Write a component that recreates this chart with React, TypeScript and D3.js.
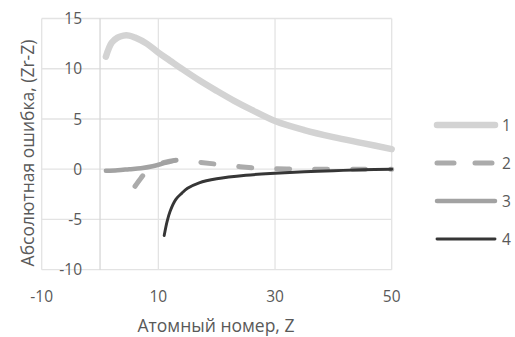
import React, { useEffect, useRef } from 'react';
import * as d3 from 'd3';

// series 1
const z1 = [1, 2, 3, 4, 5, 6, 8, 10, 12, 14, 17, 20, 23, 26, 30, 35, 40, 45, 50];
const v1 = [11.2, 12.6, 13.1, 13.3, 13.3, 13.1, 12.5, 11.6, 10.8, 10.0, 8.85, 7.8, 6.8, 5.9, 4.8, 3.9, 3.2, 2.6, 2.0];
// series 2 (dashed)
const z2 = [6, 7, 8, 10, 13, 15, 17, 20, 24, 28, 32, 36, 40, 45, 50];
const v2 = [-1.7, -0.9, -0.2, 0.5, 0.9, 0.85, 0.7, 0.5, 0.25, 0.08, 0.02, 0, 0, 0, 0];
// series 3
const z3 = [1, 3, 5, 7, 9, 11, 13];
const v3 = [-0.15, -0.1, 0, 0.1, 0.3, 0.6, 0.9];
// series 4
const z4 = [11, 11.5, 12, 13, 14, 15, 17, 20, 25, 30, 35, 40, 45, 50];
const v4 = [-6.6, -5.2, -4.2, -3.0, -2.4, -1.9, -1.35, -0.95, -0.6, -0.4, -0.25, -0.15, -0.05, 0];

const xTicks = [-10, 10, 30, 50];
const xGrid = [-10, 10, 30, 50];
const yTicks = [-10, -5, 0, 5, 10, 15];
const legendNames = ['1', '2', '3', '4'];

const xTitle = 'Атомный номер, Z';
const yTitle = 'Абсолютная ошибка, (Zr-Z)';

export default function App() {
  const ref = useRef<SVGSVGElement>(null);

  useEffect(() => {
    const svg = d3.select(ref.current);
    svg.selectAll('*').remove();

    const font = '"Open Sans", "Noto Sans", sans-serif';
    const textColor = '#595959';

    const x = d3.scaleLinear().domain([-10, 50]).range([41.7, 391.7]);
    const y = d3.scaleLinear().domain([-10, 15]).range([269.7, 18.5]);

    // grid
    svg.append('g')
      .selectAll('line')
      .data(yTicks)
      .enter()
      .append('line')
      .attr('x1', x(-10))
      .attr('x2', x(50))
      .attr('y1', d => y(d))
      .attr('y2', d => y(d))
      .attr('stroke', '#e3e3e3')
      .attr('stroke-width', 1.3);

    svg.append('g')
      .selectAll('line')
      .data(xGrid)
      .enter()
      .append('line')
      .attr('x1', d => x(d))
      .attr('x2', d => x(d))
      .attr('y1', y(15))
      .attr('y2', y(-10))
      .attr('stroke', '#e3e3e3')
      .attr('stroke-width', 1.3);

    // vertical axis at Z = 0
    svg.append('line')
      .attr('x1', x(0))
      .attr('x2', x(0))
      .attr('y1', y(15))
      .attr('y2', y(-10))
      .attr('stroke', '#d6d6d6')
      .attr('stroke-width', 1.3);

    // tick labels
    svg.append('g')
      .selectAll('text')
      .data(yTicks)
      .enter()
      .append('text')
      .attr('x', 82)
      .attr('y', d => y(d))
      .attr('dy', '0.36em')
      .attr('text-anchor', 'end')
      .attr('font-family', font)
      .attr('font-size', 15.5)
      .attr('fill', textColor)
      .text(d => d);

    svg.append('g')
      .selectAll('text')
      .data(xTicks)
      .enter()
      .append('text')
      .attr('x', d => x(d))
      .attr('y', 301.5)
      .attr('text-anchor', 'middle')
      .attr('font-family', font)
      .attr('font-size', 15.5)
      .attr('fill', textColor)
      .text(d => d);

    // axis titles
    svg.append('text')
      .attr('x', 216)
      .attr('y', 331.5)
      .attr('text-anchor', 'middle')
      .attr('font-family', font)
      .attr('font-size', 17.5)
      .attr('fill', textColor)
      .text(xTitle);

    svg.append('text')
      .attr('transform', 'translate(34,153) rotate(-90)')
      .attr('text-anchor', 'middle')
      .attr('font-family', font)
      .attr('font-size', 17.5)
      .attr('fill', textColor)
      .text(yTitle);

    const line = d3.line<[number, number]>()
      .x(d => x(d[0]))
      .y(d => y(d[1]))
      .curve(d3.curveCatmullRom.alpha(0.5));

    const series = [
      { z: z1, v: v1, color: '#d3d3d3', width: 6.5, dash: null, legendDash: null },
      { z: z2, v: v2, color: '#ababab', width: 5, dash: '13 25', legendDash: '17 21' },
      { z: z3, v: v3, color: '#a2a2a2', width: 4.5, dash: null, legendDash: null },
      { z: z4, v: v4, color: '#363636', width: 2.9, dash: null, legendDash: null },
    ];

    series.forEach((s, i) => {
      const pts = s.z.map((z, j) => [z, s.v[j]] as [number, number]);
      svg.append('path')
        .attr('d', line(pts))
        .attr('fill', 'none')
        .attr('stroke', s.color)
        .attr('stroke-width', s.width)
        .attr('stroke-linecap', 'round')
        .attr('stroke-linejoin', 'round')
        .attr('stroke-dasharray', s.dash);

      // legend
      const ly = 125 + i * 38;
      svg.append('line')
        .attr('x1', 437)
        .attr('x2', 495)
        .attr('y1', ly)
        .attr('y2', ly)
        .attr('stroke', s.color)
        .attr('stroke-width', s.width)
        .attr('stroke-linecap', 'round')
        .attr('stroke-dasharray', s.legendDash);

      svg.append('text')
        .attr('x', 502)
        .attr('y', ly)
        .attr('dy', '0.36em')
        .attr('font-family', font)
        .attr('font-size', 15.5)
        .attr('fill', textColor)
        .text(legendNames[i]);
    });
  }, []);

  return (
    <svg
      ref={ref}
      width={515}
      height={337}
      style={{ position: 'absolute', left: 0, top: 0, background: '#fff' }}
    />
  );
}
